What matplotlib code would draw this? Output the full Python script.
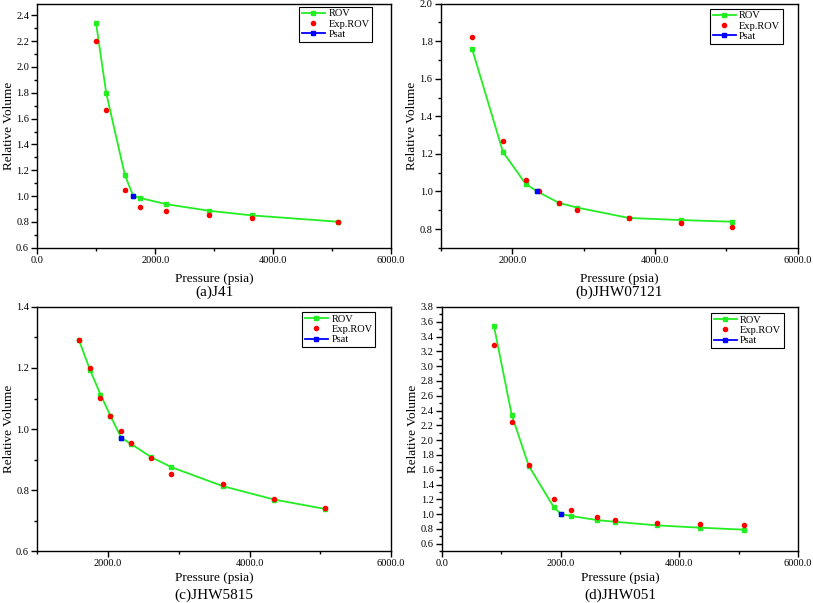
import matplotlib.pyplot as plt
from matplotlib.ticker import MultipleLocator, FormatStrFormatter

plt.rcParams['font.family'] = ['Liberation Serif', 'DejaVu Serif']

# (a) J41
a_rov_p = [994, 1168, 1483, 1624, 1742, 2185, 2910, 3640, 5101]
a_rov_v = [2.343, 1.797, 1.165, 1.003, 0.986, 0.938, 0.887, 0.851, 0.802]
a_exp_p = [994, 1168, 1483, 1742, 2185, 2910, 3640, 5101]
a_exp_v = [2.20, 1.667, 1.045, 0.919, 0.882, 0.851, 0.833, 0.801]
a_psat = (1624, 1.003)

# (b) JHW07121
b_rov_p = [1435, 1869, 2187, 2350, 2649, 2910, 3634, 4357, 5080]
b_rov_v = [1.76, 1.21, 1.04, 1.0, 0.94, 0.914, 0.859, 0.848, 0.839]
b_exp_p = [1435, 1869, 2187, 2373, 2649, 2910, 3634, 4357, 5080]
b_exp_v = [1.822, 1.27, 1.06, 1.0, 0.94, 0.901, 0.858, 0.834, 0.811]
b_psat = (2350, 1.0)

# (c) JHW5815
c_rov_p = [1588, 1742, 1892, 2033, 2183, 2318, 2609, 2895, 3621, 4347, 5073]
c_rov_v = [1.291, 1.195, 1.113, 1.043, 0.972, 0.952, 0.908, 0.875, 0.813, 0.769, 0.738]
c_exp_p = [1588, 1742, 1892, 2033, 2183, 2318, 2609, 2895, 3621, 4347, 5073]
c_exp_v = [1.293, 1.20, 1.102, 1.043, 0.992, 0.955, 0.904, 0.852, 0.82, 0.77, 0.74]
c_psat = (2183, 0.972)

# (d) JHW051
d_rov_p = [876, 1173, 1459, 1886, 2009, 2178, 2610, 2907, 3626, 4350, 5091]
d_rov_v = [3.538, 2.346, 1.656, 1.09, 1.0, 0.975, 0.92, 0.897, 0.848, 0.817, 0.79]
d_exp_p = [876, 1173, 1459, 1886, 2178, 2610, 2907, 3626, 4350, 5091]
d_exp_v = [3.285, 2.25, 1.669, 1.21, 1.06, 0.956, 0.92, 0.884, 0.862, 0.848]
d_psat = (2009, 1.0)

GREEN = '#22ee22'

fig = plt.figure(figsize=(8.13, 6.03), dpi=100)


def panel(rect, rov_p, rov_v, exp_p, exp_v, psat, xlim, ylim, caption, xpad, leg_anchor):
	ax = fig.add_axes(rect)
	ax.plot(rov_p, rov_v, '-s', color=GREEN, lw=1.3, ms=2.6, label='ROV')
	ax.plot(exp_p, exp_v, 'o', color='red', ms=3.0, ls='none', label='Exp.ROV')
	ax.plot([psat[0]], [psat[1]], '-s', color='blue', lw=1.3, ms=2.6, label='Psat')
	ax.set_xlim(xlim)
	ax.set_ylim(ylim)
	ax.xaxis.set_major_locator(MultipleLocator(2000))
	ax.xaxis.set_minor_locator(MultipleLocator(1000))
	ax.yaxis.set_major_locator(MultipleLocator(0.2))
	ax.yaxis.set_minor_locator(MultipleLocator(0.1))
	ax.xaxis.set_major_formatter(FormatStrFormatter('%.1f'))
	ax.yaxis.set_major_formatter(FormatStrFormatter('%.1f'))
	ax.tick_params(which='major', direction='out', length=4, width=1, labelsize=7.5, pad=2)
	ax.tick_params(which='minor', direction='out', length=2, width=1)
	for s in ax.spines.values():
		s.set_linewidth(1.0)
	ax.set_xlabel('Pressure (psia)', fontsize=9.5, labelpad=xpad)
	ax.set_ylabel('Relative Volume', fontsize=9.5, labelpad=1)
	leg = ax.legend(loc='upper right', bbox_to_anchor=leg_anchor, fontsize=7.5, frameon=True,
		fancybox=False, edgecolor='black', framealpha=1, handlelength=2.2, borderpad=0.25,
		labelspacing=0.1, handletextpad=0.35, borderaxespad=0)
	leg.get_frame().set_linewidth(0.8)
	pos = ax.get_position()
	fig.text(pos.x0 + pos.width / 2, pos.y0 - 44 / 603, caption, ha='center', va='center', fontsize=11)
	return ax


panel([0.046, 0.589, 0.435, 0.405], a_rov_p, a_rov_v, a_exp_p, a_exp_v, a_psat,
	(0, 6000), (0.6, 2.49), '(a)J41', 6, (0.947, 0.988))
panel([0.5424, 0.589, 0.439, 0.405], b_rov_p, b_rov_v, b_exp_p, b_exp_v, b_psat,
	(1000, 6000), (0.7, 2.0), '(b)JHW07121', 6, (0.958, 0.98))
panel([0.046, 0.086, 0.435, 0.405], c_rov_p, c_rov_v, c_exp_p, c_exp_v, c_psat,
	(1000, 6000), (0.6, 1.4), '(c)JHW5815', 2.5, (0.955, 0.98))
panel([0.5437, 0.086, 0.438, 0.405], d_rov_p, d_rov_v, d_exp_p, d_exp_v, d_psat,
	(0, 6000), (0.5, 3.8), '(d)JHW051', 2.5, (0.96, 0.976))

fig.savefig('out.png', dpi=100)
